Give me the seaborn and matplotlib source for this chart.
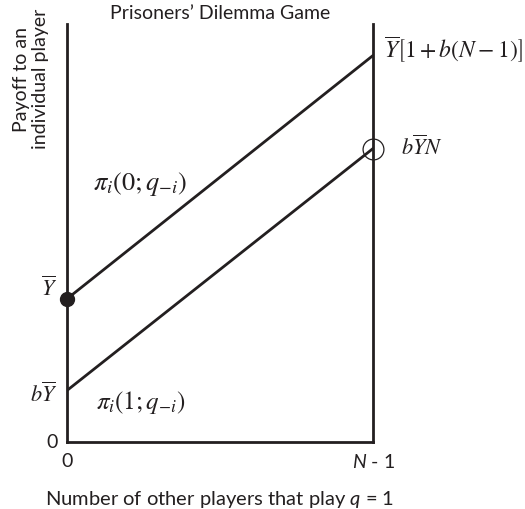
import numpy as np
import pandas as pd
import matplotlib
matplotlib.use('Agg')
import matplotlib.pyplot as plt
import seaborn as sns

# data (payoff in units of Ybar)
x_labels = ['0', r'$N$ - 1']
x_pos = [0.0, 4.75]
defect_payoff = [1.0, 2.70]   # pi_i(0; q_-i)
coop_payoff = [0.36, 2.05]    # pi_i(1; q_-i)
y_top = 2.92

sns.set_style('white')
plt.rcParams['font.family'] = ['Lato', 'DejaVu Sans']
plt.rcParams['mathtext.fontset'] = 'custom'
plt.rcParams['mathtext.rm'] = 'Lato'
plt.rcParams['mathtext.it'] = 'Lato:italic'

ink = '#231f20'

df = pd.DataFrame({
    'x': x_pos + x_pos,
    'payoff': defect_payoff + coop_payoff,
    'strategy': ['defect'] * 2 + ['coop'] * 2,
})

fig = plt.figure(figsize=(5.25, 5.10), dpi=100)
ax = fig.add_axes([67 / 525, 1 - 443 / 510, (373 - 67) / 525, (443 - 25) / 510])

sns.lineplot(data=df, x='x', y='payoff', units='strategy', estimator=None,
             color=ink, linewidth=2.0, ax=ax)

# filled dot at Ybar and open circle at bYbar N
ax.plot(x_pos[0], defect_payoff[0], 'o', color=ink, ms=10, clip_on=False, zorder=5)
ax.plot(x_pos[1], coop_payoff[1], 'o', mfc='none', mec=ink, ms=15, mew=0.9,
        clip_on=False, zorder=5)

ax.set_xlim(x_pos[0], x_pos[1])
ax.set_ylim(0, y_top)

for side in ['left', 'right', 'bottom']:
    ax.spines[side].set_visible(True)
    ax.spines[side].set_color(ink)
    ax.spines[side].set_linewidth(2.0)
ax.spines['top'].set_visible(False)

ax.set_xticks(x_pos)
ax.set_xticklabels(x_labels, fontsize=14, color=ink)
ax.set_yticks([0, coop_payoff[0], defect_payoff[0]])
ax.set_yticklabels(['0', r'$b\overline{Y}$', r'$\overline{Y}$'], fontsize=14, color=ink)
ax.tick_params(length=0, pad=7)
yt = ax.get_yticklabels()
yt[0].set_va('center')
for t in yt[1:]:
    t.set_math_fontfamily('stix')
    t.set_fontsize(16)
yt[2].set_va('bottom')

ax.set_title('Prisoners\u2019 Dilemma Game', fontsize=14, color=ink, pad=4)
ax.set_xlabel(r'Number of other players that play $q$ = 1', fontsize=14.5, color=ink, labelpad=13)
ax.set_ylabel('Payoff to an\nindividual player', fontsize=14, color=ink, linespacing=1.1)
ax.yaxis.set_label_coords(-0.06, 0.87)

ax.text(0.085, 0.62, r'$\pi_i\left(0;q_{-i}\right)$', transform=ax.transAxes,
        fontsize=19, color=ink, math_fontfamily='stix', va='center')
ax.text(0.095, 0.097, r'$\pi_i\left(1;q_{-i}\right)$', transform=ax.transAxes,
        fontsize=18, color=ink, math_fontfamily='stix', va='center')
ax.text(1.035, defect_payoff[1] + 0.05, r'$\overline{Y}\left[1+b\left(N-1\right)\right]$',
        transform=ax.get_yaxis_transform(), fontsize=17, color=ink,
        math_fontfamily='stix', va='center', clip_on=False)
ax.text(1.09, coop_payoff[1] + 0.02, r'$b\overline{Y}N$',
        transform=ax.get_yaxis_transform(), fontsize=16, color=ink,
        math_fontfamily='stix', va='center', clip_on=False)

fig.savefig('out.png', dpi=100)
